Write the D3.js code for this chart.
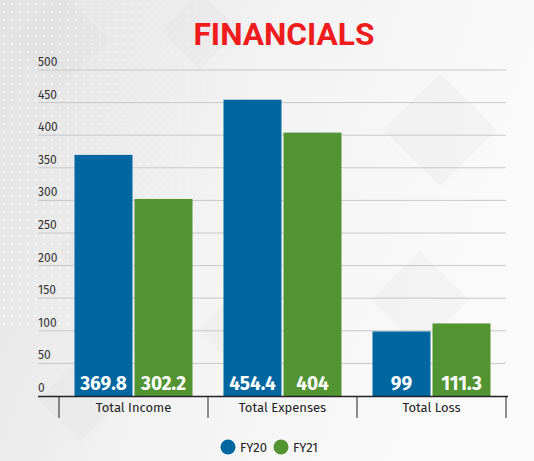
<!DOCTYPE html>
<html>
<head>
<meta charset="utf-8">
<script src="https://cdn.jsdelivr.net/npm/d3@7"></script>
<style>
  html, body { margin: 0; padding: 0; background: #fff; }
  svg { display: block; font-family: "Fira Sans", "Open Sans", sans-serif; }
</style>
</head>
<body>
<div id="chart"></div>
<script>
var categories = ["Total Income", "Total Expenses", "Total Loss"];
var series = ["FY20", "FY21"];
var fy20 = [369.8, 454.4, 99];
var fy21 = [302.2, 404, 111.3];
var yTicks = [0, 50, 100, 150, 200, 250, 300, 350, 400, 450, 500];
var colors = ["#00669f", "#529332"];

var width = 534, height = 461;
var margin = {top: 70, left: 38, right: 28, bottom: 65};

var svg = d3.select("#chart").append("svg")
    .attr("width", width)
    .attr("height", height);

// background
var defs = svg.append("defs");
var grad = defs.append("linearGradient")
    .attr("id", "bg")
    .attr("x1", "0").attr("y1", "0")
    .attr("x2", "1").attr("y2", "0.3");
grad.append("stop").attr("offset", "0").attr("stop-color", "#e2e2e2");
grad.append("stop").attr("offset", "0.5").attr("stop-color", "#f3f3f3");
grad.append("stop").attr("offset", "1").attr("stop-color", "#fafafa");

var dots = defs.append("pattern")
    .attr("id", "dots")
    .attr("width", 8).attr("height", 8)
    .attr("patternUnits", "userSpaceOnUse");
dots.append("circle").attr("cx", 4).attr("cy", 4).attr("r", 1.1).attr("fill", "#fff");

var fade = defs.append("linearGradient")
    .attr("id", "fade")
    .attr("x1", "0").attr("y1", "0").attr("x2", "1").attr("y2", "0");
fade.append("stop").attr("offset", "0").attr("stop-color", "#fff").attr("stop-opacity", 1);
fade.append("stop").attr("offset", "1").attr("stop-color", "#fff").attr("stop-opacity", 0);
defs.append("mask").attr("id", "dotmask")
    .append("rect").attr("width", 260).attr("height", 330).attr("fill", "url(#fade)");

svg.append("rect").attr("width", width).attr("height", height).attr("fill", "url(#bg)");

var diamonds = [[60, 40, 70], [200, 30, 55], [120, 250, 90], [240, 330, 60], [420, 300, 70], [440, 130, 80], [80, 400, 60]];
svg.selectAll(".diamond")
    .data(diamonds)
    .enter().append("rect")
    .attr("x", function(d) { return d[0] - d[2] / 2; })
    .attr("y", function(d) { return d[1] - d[2] / 2; })
    .attr("width", function(d) { return d[2]; })
    .attr("height", function(d) { return d[2]; })
    .attr("transform", function(d) { return "rotate(45," + d[0] + "," + d[1] + ")"; })
    .attr("fill", "#d8d8d8")
    .attr("opacity", 0.18);

svg.append("rect")
    .attr("width", 260).attr("height", 330)
    .attr("fill", "url(#dots)")
    .attr("mask", "url(#dotmask)")
    .attr("opacity", 0.9);

// title
svg.append("text")
    .attr("x", 284)
    .attr("y", 45)
    .attr("text-anchor", "middle")
    .attr("fill", "#ee1c1c")
    .attr("font-family", "Roboto, sans-serif")
    .attr("font-weight", "bold")
    .attr("font-size", 31)
    .attr("textLength", 181)
    .attr("lengthAdjust", "spacingAndGlyphs")
    .text("FINANCIALS");

var y = d3.scaleLinear()
    .domain([0, 500])
    .range([396, 70]);

var x0 = d3.scaleBand()
    .domain(categories)
    .range([59, 506])
    .paddingInner(0)
    .paddingOuter(0);

var x1 = d3.scaleBand()
    .domain(series)
    .range([15.5, x0.bandwidth() - 15.5])
    .paddingInner(0.034);

// grid
svg.append("g")
    .selectAll("line")
    .data(yTicks.slice(1))
    .enter().append("line")
    .attr("x1", margin.left)
    .attr("x2", 506)
    .attr("y1", function(d) { return y(d); })
    .attr("y2", function(d) { return y(d); })
    .attr("stroke", "#c8c8c8")
    .attr("stroke-width", 1);

svg.append("g")
    .selectAll("text")
    .data(yTicks)
    .enter().append("text")
    .attr("x", margin.left)
    .attr("y", function(d) { return y(d) - 4; })
    .attr("fill", "#333")
    .attr("font-size", 12)
    .text(function(d) { return d; });

// bars
var rows = categories.map(function(c, i) {
    return {cat: c, vals: [fy20[i], fy21[i]]};
});

var groups = svg.selectAll(".grp")
    .data(rows)
    .enter().append("g")
    .attr("transform", function(d) { return "translate(" + x0(d.cat) + ",0)"; });

groups.selectAll("rect")
    .data(function(d) { return d.vals.map(function(v, j) { return {s: series[j], v: v, j: j}; }); })
    .enter().append("rect")
    .attr("x", function(d) { return x1(d.s); })
    .attr("y", function(d) { return y(d.v); })
    .attr("width", x1.bandwidth())
    .attr("height", function(d) { return y(0) - y(d.v); })
    .attr("fill", function(d) { return colors[d.j]; });

groups.selectAll(".val")
    .data(function(d) { return d.vals.map(function(v, j) { return {s: series[j], v: v}; }); })
    .enter().append("text")
    .attr("x", function(d) { return x1(d.s) + x1.bandwidth() / 2; })
    .attr("y", 390)
    .attr("text-anchor", "middle")
    .attr("fill", "#fff")
    .attr("font-weight", "bold")
    .attr("font-size", 19)
    .text(function(d) { return d.v; });

// x axis
var xAxis = svg.append("g");
xAxis.append("line")
    .attr("x1", margin.left)
    .attr("x2", 508)
    .attr("y1", 396.5)
    .attr("y2", 396.5)
    .attr("stroke", "#222")
    .attr("stroke-width", 1.3);

var edges = categories.map(function(c) { return x0(c); }).concat([x0.range()[1]]);
xAxis.selectAll(".tick")
    .data(edges)
    .enter().append("line")
    .attr("x1", function(d) { return d; })
    .attr("x2", function(d) { return d; })
    .attr("y1", 396.5)
    .attr("y2", 418)
    .attr("stroke", "#222")
    .attr("stroke-width", 1);

xAxis.selectAll(".cat")
    .data(categories)
    .enter().append("text")
    .attr("x", function(d) { return x0(d) + x0.bandwidth() / 2; })
    .attr("y", 412)
    .attr("text-anchor", "middle")
    .attr("fill", "#222")
    .attr("font-size", 13)
    .text(function(d) { return d; });

// legend
var legend = svg.append("g").attr("transform", "translate(228,447)");
var item = legend.selectAll(".item")
    .data(series)
    .enter().append("g")
    .attr("transform", function(d, i) { return "translate(" + (i * 53) + ",0)"; });
item.append("circle")
    .attr("r", 7.5)
    .attr("fill", function(d, i) { return colors[i]; });
item.append("text")
    .attr("x", 12)
    .attr("y", 4.5)
    .attr("fill", "#222")
    .attr("font-size", 13)
    .text(function(d) { return d; });
</script>
</body>
</html>
